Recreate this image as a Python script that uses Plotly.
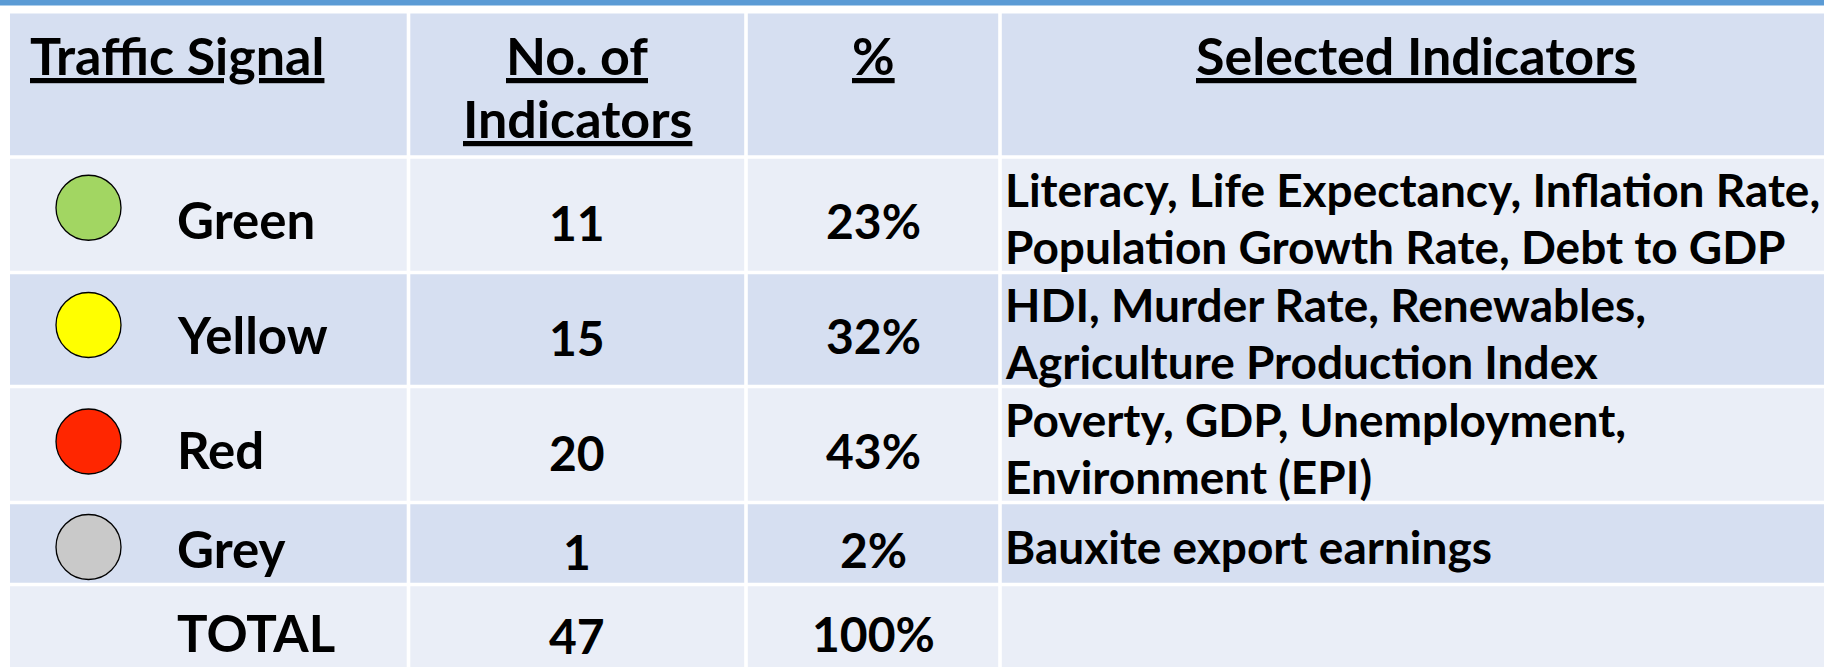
import plotly.graph_objects as go

# ---- data ----
headers = ["Traffic Signal", "No. of", "Indicators", "%", "Selected Indicators"]
signals = ["Green", "Yellow", "Red", "Grey", "TOTAL"]
counts = [11, 15, 20, 1, 47]
percents = ["23%", "32%", "43%", "2%", "100%"]
indicators = [
    ["Literacy, Life Expectancy, Inflation Rate,", "Population Growth Rate, Debt to GDP"],
    ["HDI, Murder Rate, Renewables,", "Agriculture Production Index"],
    ["Poverty, GDP, Unemployment,", "Environment (EPI)"],
    ["Bauxite export earnings"],
    [],
]
signal_colors = ["#A2D662", "#FFFF00", "#FF2600", "#C9C9C9", None]

# ---- layout / style ----
W, H = 1824, 667
col_edges = [10, 408.5, 746, 1000, 1824]
row_edges = [13.5, 157, 272.5, 386.5, 502.5, 584.5, 667]
gap = 1.8
dark_bg = "#D6DFF1"
light_bg = "#EAEEF7"
band_blue = "#5B9BD5"
FONT = "Lato, 'Open Sans', sans-serif"
FS_HEAD = 52
FS_LABEL = 51
FS_NUM = 48
FS_IND = 46
row_bgs = [dark_bg, light_bg, dark_bg, light_bg, dark_bg, light_bg]
circle_nudge = [-7, -4.5, -3, 3.5]
line_gap = 28.5

fig = go.Figure()
shapes = []
shapes.append(dict(type="rect", xref="x", yref="y", x0=0, x1=W, y0=0, y1=5.5,
                   fillcolor=band_blue, line_width=0, layer="below"))
for r in range(len(row_edges) - 1):
    for c in range(len(col_edges) - 1):
        x0 = col_edges[c] + (gap if c > 0 else 0)
        x1 = col_edges[c + 1] - (gap if c < len(col_edges) - 2 else 0)
        y0 = row_edges[r] + (gap if r > 0 else 0)
        y1 = row_edges[r + 1] - (gap if r < len(row_edges) - 2 else 0)
        shapes.append(dict(type="rect", xref="x", yref="y", x0=x0, x1=x1, y0=y0, y1=y1,
                           fillcolor=row_bgs[r], line_width=0, layer="below"))

annotations = []
def ann(x, y, text, xanchor="center", size=FS_LABEL):
    annotations.append(dict(x=x, y=y, xref="x", yref="y", text=text, showarrow=False,
                            xanchor=xanchor, yanchor="middle",
                            font=dict(family=FONT, size=size, color="black")))

def ccenter(c):
    return (col_edges[c] + col_edges[c + 1]) / 2

def rcenter(r):
    return (row_edges[r] + row_edges[r + 1]) / 2

# header
ann(28, 55, "<b><u>%s</u></b>" % headers[0], "left", FS_HEAD)
ann(ccenter(1), 55, "<b><u>%s</u></b>" % headers[1], size=FS_HEAD)
ann(ccenter(1), 118, "<b><u>%s</u></b>" % headers[2], size=FS_HEAD)
ann(ccenter(2), 55, "<b><u>%s</u></b>" % headers[3], size=FS_HEAD)
ann(ccenter(3) + 4, 55, "<b><u>%s</u></b>" % headers[4], size=FS_HEAD)

for i, s in enumerate(signals):
    yc = rcenter(i + 1)
    extra = 2 if i == len(signals) - 1 else 0
    ann(175, yc + 5 + extra, "<b>%s</b>" % s, "left", FS_LABEL)
    ann(ccenter(1), yc + 8 + extra, "<b>%d</b>" % counts[i], size=FS_NUM)
    ann(ccenter(2), yc + 6 + extra, "<b>%s</b>" % percents[i], size=FS_NUM)
    lines = indicators[i]
    n = len(lines)
    for k, ln in enumerate(lines):
        off = (k - (n - 1) / 2) * 2 * line_gap
        ann(col_edges[3] + 3, yc + 3 + off, "<b>%s</b>" % ln, "left", FS_IND)

# circles
cx, cy, cc = [], [], []
for i, col in enumerate(signal_colors):
    if col:
        cx.append(88.5)
        cy.append(rcenter(i + 1) + circle_nudge[i])
        cc.append(col)
fig.add_trace(go.Scatter(x=cx, y=cy, mode="markers", hoverinfo="skip",
                         marker=dict(size=65, color=cc, line=dict(color="black", width=1.3))))

fig.update_layout(
    width=W, height=H, margin=dict(l=0, r=0, t=0, b=0),
    paper_bgcolor="white", plot_bgcolor="white", showlegend=False,
    xaxis=dict(range=[0, W], visible=False, fixedrange=True),
    yaxis=dict(range=[H, 0], visible=False, fixedrange=True),
    shapes=shapes, annotations=annotations,
)
fig.write_html("out.html", config={"displayModeBar": False},
               post_script="document.body.style.margin='0px';document.body.style.overflow='hidden';")
